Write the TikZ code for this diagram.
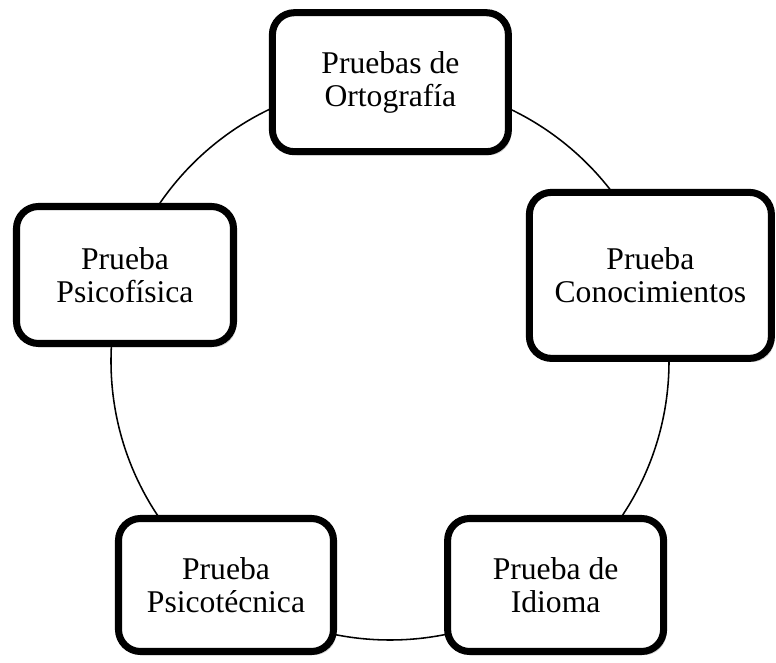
\documentclass[tikz,border=0pt]{standalone}
\usepackage{fontspec}
\setmainfont{Liberation Serif}
\usetikzlibrary{shadows}
\tikzstyle{prueba}=[rectangle, draw, line width=5pt, rounded corners=0.55cm, fill=white, align=center, inner sep=0pt, font=\fontsize{22.5}{23.5}\selectfont, drop shadow={shadow xshift=0.07cm, shadow yshift=-0.09cm, opacity=0.35}]
\tikzstyle{ciclo}=[line width=1.1pt]

\begin{document}
\begin{tikzpicture}
  \useasboundingbox (0,0) rectangle (19.4,16.575);
  \coordinate (centro) at (9.75,7.55);
  \draw[ciclo] (centro) circle[radius=6.975];

  \node[prueba, minimum width=5.9cm, minimum height=3.475cm] (orto) at (9.76,14.52) {Pruebas de\\Ortografía};
  \node[prueba, minimum width=6.05cm, minimum height=4.15cm] (conoc) at (16.26,9.69) {Prueba\\Conocimientos};
  \node[prueba, minimum width=5.4cm, minimum height=3.325cm] (idioma) at (13.89,1.95) {Prueba de\\Idioma};
  \node[prueba, minimum width=5.375cm, minimum height=3.325cm] (psicot) at (5.65,1.95) {Prueba\\Psicotécnica};
  \node[prueba, minimum width=5.425cm, minimum height=3.425cm] (psicof) at (3.125,9.70) {Prueba\\Psicofísica};
\end{tikzpicture}
\end{document}
